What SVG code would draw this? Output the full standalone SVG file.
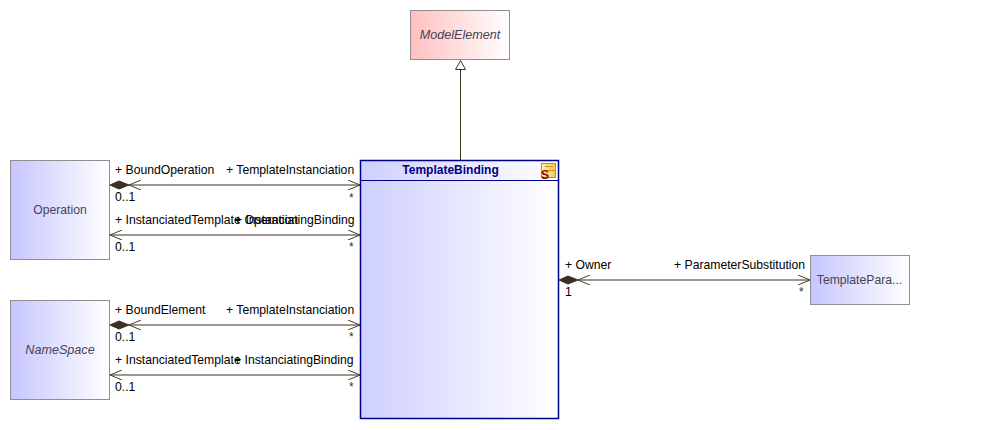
<svg xmlns="http://www.w3.org/2000/svg" width="1001" height="430" viewBox="0 0 1001 430">
<defs>
<linearGradient id="blue"><stop offset="0" stop-color="#c6c6ff"/><stop offset="1" stop-color="#ffffff"/></linearGradient>
<linearGradient id="bind"><stop offset="0" stop-color="#cfcfff"/><stop offset="1" stop-color="#ffffff"/></linearGradient>
<linearGradient id="red"><stop offset="0" stop-color="#ffc0c0"/><stop offset="1" stop-color="#ffffff"/></linearGradient>
<linearGradient id="icon"><stop offset="0" stop-color="#fff0a0"/><stop offset="1" stop-color="#f8c860"/></linearGradient>
<marker id="open" viewBox="0 0 12 10" refX="12" refY="5" markerWidth="12" markerHeight="10" markerUnits="userSpaceOnUse" orient="auto-start-reverse"><path d="M0 0L12 5L0 10" fill="none" stroke="#483c2c"/></marker>
</defs>
<style>
text{font-family:"Liberation Sans",Arial,sans-serif;font-size:12.2px;fill:#000}
.n{fill:#444455;text-anchor:middle;font-size:12.2px}
.i{font-style:italic;font-size:12.6px}
.box{stroke:#8f8f8f;stroke-width:1}
.c{fill:none;stroke:#3c3020;stroke-width:1}
.d{fill:#3c3020;stroke:#3c3020}
.m{fill:#333;font-size:12px}
</style>
<g id="connectors">
<path class="c" d="M460.500 160V70"/>
<path d="M460.500 60.500L455.500 69.500H465.500Z" fill="#fff" stroke="#3c3020"/>
<path class="c" d="M129 185H360" marker-start="url(#open)" marker-end="url(#open)"/>
<path class="d" d="M110 185L119 181L129 185L119 189Z"/>
<path class="c" d="M110 235H360" marker-start="url(#open)" marker-end="url(#open)"/>
<path class="c" d="M129 325H360" marker-start="url(#open)" marker-end="url(#open)"/>
<path class="d" d="M110 325L119 321L129 325L119 329Z"/>
<path class="c" d="M110 375H360" marker-start="url(#open)" marker-end="url(#open)"/>
<path class="c" d="M578 280H810" marker-start="url(#open)" marker-end="url(#open)"/>
<path class="d" d="M559 280L568 276L578 280L568 284Z"/>
<g>
<text x="115" y="174">+ BoundOperation</text><text x="226" y="174">+ TemplateInstanciation</text>
<text x="115" y="201">0..1</text><text x="349" y="202" class="m">*</text>
<text x="115" y="224">+ InstanciatedTemplate</text><text x="234" y="224">+ Operation</text><text x="354.500" y="224" text-anchor="end">+ InstanciatingBinding</text>
<text x="115" y="251">0..1</text><text x="349" y="251" class="m">*</text>
<text x="115" y="314">+ BoundElement</text><text x="226" y="314">+ TemplateInstanciation</text>
<text x="115" y="341">0..1</text><text x="349" y="341" class="m">*</text>
<text x="115" y="364">+ InstanciatedTemplate</text><text x="234" y="364">+ InstanciatingBinding</text>
<text x="115" y="391">0..1</text><text x="349" y="391" class="m">*</text>
<text x="565" y="269">+ Owner</text><text x="674" y="269">+ ParameterSubstitution</text>
<text x="565" y="296">1</text><text x="799" y="296" class="m">*</text>
</g>
</g>
<g id="ModelElement"><rect class="box" x="410.500" y="10.500" width="99" height="49" fill="url(#red)"/><text class="n i" x="460" y="38.500">ModelElement</text></g>
<g id="Operation"><rect class="box" x="10.500" y="160.500" width="99" height="99" fill="url(#blue)"/><text class="n" x="60" y="214">Operation</text></g>
<g id="NameSpace"><rect class="box" x="10.500" y="300.500" width="99" height="99" fill="url(#blue)"/><text class="n i" x="60" y="354">NameSpace</text></g>
<g id="TemplateParameter"><rect class="box" x="810.500" y="255.500" width="99" height="49" fill="url(#blue)"/><text class="n" x="859.500" y="284">TemplatePara...</text></g>
<g id="TemplateBinding">
<rect x="360.500" y="160.500" width="198" height="258" fill="url(#bind)" stroke="#000084" stroke-width="1.500"/>
<path d="M360.500 180.500H558.500" stroke="#000084" fill="none"/>
<text x="450.500" y="174" text-anchor="middle" font-weight="bold" style="fill:#000084;font-size:12px">TemplateBinding</text>
<rect x="541.500" y="163.500" width="14" height="14" fill="url(#icon)" stroke="#c89010"/>
<path d="M545 166.500H553M548 170.500H555" stroke="#c89010" fill="none"/>
<text x="541" y="178.500" font-weight="bold" style="fill:#8b0000;font-size:12px">S</text>
</g>
</svg>
